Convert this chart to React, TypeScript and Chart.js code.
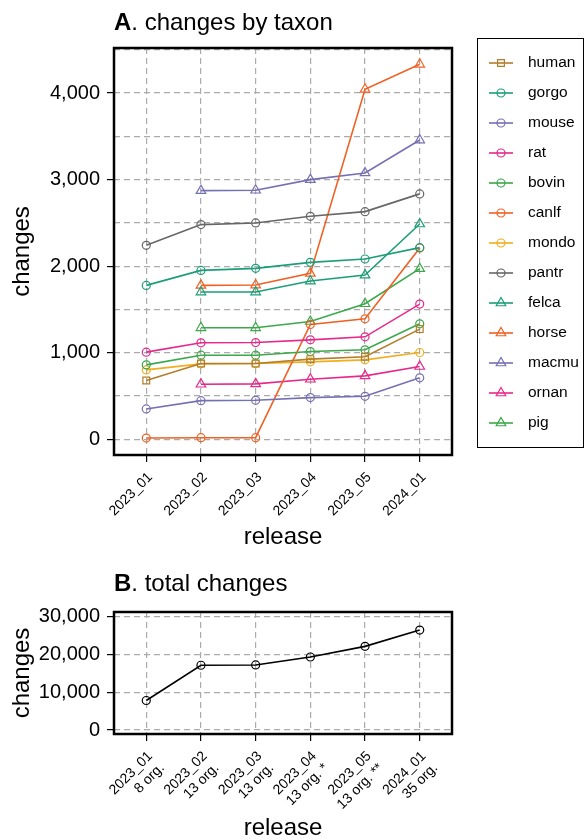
import React, { useEffect, useRef } from 'react';
import { Chart, registerables } from 'chart.js';
import { drawPoint } from 'chart.js/helpers';

Chart.register(...registerables);

// ---------- data ----------
const releases = ['2023_01', '2023_02', '2023_03', '2023_04', '2023_05', '2024_01'];
const orgCounts = ['8 org.', '13 org.', '13 org.', '13 org. *', '13 org. **', '35 org.'];

const taxa = ['human', 'gorgo', 'mouse', 'rat', 'bovin', 'canlf', 'mondo', 'pantr', 'felca', 'horse', 'macmu', 'ornan', 'pig'];

const human = [679, 875, 875, 926, 953, 1273];
const gorgo = [1778, 1951, 1975, 2044, 2083, 2214];
const mouse = [351, 447, 451, 482, 497, 710];
const rat = [1007, 1115, 1118, 1149, 1184, 1562];
const bovin = [860, 972, 972, 1014, 1034, 1334];
const canlf = [15, 19, 19, 1327, 1392, 2210];
const mondo = [802, 872, 875, 895, 918, 1003];
const pantr = [2241, 2480, 2499, 2576, 2630, 2835];
const felca = [null, 1701, 1701, 1828, 1897, 2487];
const horse = [null, 1778, 1782, 1917, 4043, 4332];
const macmu = [null, 2873, 2877, 3000, 3077, 3457];
const ornan = [null, 636, 640, 694, 733, 841];
const pig = [null, 1288, 1288, 1361, 1566, 1971];

const taxonValues = [human, gorgo, mouse, rat, bovin, canlf, mondo, pantr, felca, horse, macmu, ornan, pig];

const totalChanges = [7790, 17080, 17160, 19260, 22070, 26360];

const topGridValues = [0, 500, 1000, 1500, 2000, 2500, 3000, 3500, 4000, 4500];
const topTickLabels = [0, 1000, 2000, 3000, 4000];
const bottomGridValues = [0, 5000, 10000, 15000, 20000, 25000, 30000];
const bottomTickLabels = [0, 10000, 20000, 30000];

// ---------- styles ----------
const taxonColors = ['#B37D2A', '#1B9E77', '#7570B3', '#E7298A', '#3BA84A', '#EF6123', '#F2AE1E', '#666666', '#1B9E77', '#EF6123', '#7570B3', '#E7298A', '#3BA84A'];
const taxonShapes = ['rect', 'circle', 'circle', 'circle', 'circle', 'circle', 'circle', 'circle', 'triangle', 'triangle', 'triangle', 'triangle', 'triangle'];

const FONT = "'Liberation Sans', Arial, Helvetica, sans-serif";
const GRID = '#ABABAB';

function radiusFor(shape: string) {
  if (shape === 'triangle') return 5.5;
  if (shape === 'rect') return 4.8;
  return 4;
}

const frameAndTitle = (bold: string, rest: string, baseline: number) => ({
  id: 'frameAndTitle',
  afterDatasetsDraw(chart: any) {
    const { ctx, chartArea } = chart;
    ctx.save();
    ctx.strokeStyle = '#000';
    ctx.lineWidth = 2.5;
    ctx.setLineDash([]);
    ctx.strokeRect(chartArea.left, chartArea.top, chartArea.right - chartArea.left, chartArea.bottom - chartArea.top);
    ctx.restore();
  },
  afterDraw(chart: any) {
    const { ctx, chartArea } = chart;
    ctx.save();
    ctx.fillStyle = '#000';
    ctx.textBaseline = 'alphabetic';
    ctx.textAlign = 'left';
    ctx.font = `bold 24px ${FONT}`;
    const x = chartArea.left;
    ctx.fillText(bold, x, baseline);
    const w = ctx.measureText(bold).width;
    ctx.font = `24px ${FONT}`;
    ctx.fillText(rest, x + w, baseline);
    ctx.restore();
  },
});

const boxLegend = {
  id: 'boxLegend',
  afterDraw(chart: any) {
    const { ctx, chartArea } = chart;
    const left = chartArea.right + 25;
    const top = chartArea.top - 10;
    const n = chart.data.datasets.length;
    const step = 30;
    const height = 25 + step * (n - 1) + 24;
    ctx.save();
    ctx.strokeStyle = '#000';
    ctx.lineWidth = 1;
    ctx.strokeRect(left + 0.5, top + 0.5, 106, height);
    chart.data.datasets.forEach((ds: any, i: number) => {
      const y = top + 25 + step * i;
      ctx.strokeStyle = ds.borderColor;
      ctx.lineWidth = 1.6;
      ctx.beginPath();
      ctx.moveTo(left + 12, y);
      ctx.lineTo(left + 36, y);
      ctx.stroke();
      ctx.fillStyle = 'rgba(0,0,0,0)';
      ctx.lineWidth = 1.2;
      drawPoint(ctx, { pointStyle: ds.pointStyle, rotation: 0, radius: ds.pointRadius, borderWidth: 1.2 } as any, left + 24, y);
      ctx.fillStyle = '#000';
      ctx.font = `15.5px ${FONT}`;
      ctx.textBaseline = 'middle';
      ctx.textAlign = 'left';
      ctx.fillText(ds.label, left + 51, y);
    });
    ctx.restore();
  },
};

function yScale(min: number, max: number, gridValues: number[], labelValues: number[], width: number) {
  return {
    type: 'linear' as const,
    min,
    max,
    afterBuildTicks: (scale: any) => {
      scale.ticks = gridValues.map((v) => ({ value: v }));
    },
    afterFit: (scale: any) => {
      scale.width = width;
    },
    border: { display: false, dash: [6, 4] },
    grid: {
      color: GRID,
      lineWidth: 1.2,
      tickLength: 7,
      tickWidth: 1.2,
      tickBorderDash: [],
      tickColor: (c: any) => (c.tick && labelValues.includes(c.tick.value) ? '#000' : 'rgba(0,0,0,0)'),
    },
    ticks: {
      padding: 7,
      color: '#000',
      font: { family: FONT, size: 20 },
      callback: (v: any) => (labelValues.includes(v) ? Number(v).toLocaleString('en-US') : ''),
    },
    title: {
      display: true,
      text: 'changes',
      color: '#000',
      font: { family: FONT, size: 24, lineHeight: 1 },
      padding: { top: 10, bottom: 0 },
    },
  };
}

function xScale(height: number, labelFn: (i: number) => any, titlePadBottom: number) {
  return {
    type: 'linear' as const,
    min: -0.59,
    max: 5.59,
    afterBuildTicks: (scale: any) => {
      scale.ticks = releases.map((_, i) => ({ value: i }));
    },
    afterFit: (scale: any) => {
      scale.height = height;
    },
    border: { display: false, dash: [6, 4] },
    grid: {
      color: GRID,
      lineWidth: 1.2,
      tickLength: 7,
      tickWidth: 1.2,
      tickBorderDash: [],
      tickColor: '#000',
    },
    ticks: {
      autoSkip: false,
      maxRotation: 45,
      minRotation: 45,
      padding: 7,
      labelOffset: 4,
      color: '#000',
      font: { family: FONT, size: 14 },
      callback: (v: any) => labelFn(Number(v)),
    },
    title: {
      display: true,
      text: 'release',
      color: '#000',
      font: { family: FONT, size: 24, lineHeight: 1 },
      padding: { top: 0, bottom: titlePadBottom },
    },
  };
}

export default function App() {
  const topRef = useRef<HTMLCanvasElement>(null);
  const bottomRef = useRef<HTMLCanvasElement>(null);

  useEffect(() => {
    const datasets = taxa.map((name, k) => ({
      label: name,
      data: taxonValues[k].map((v, i) => ({ x: i, y: v })),
      borderColor: taxonColors[k],
      backgroundColor: 'rgba(0,0,0,0)',
      borderWidth: 1.6,
      pointStyle: taxonShapes[k],
      pointRadius: radiusFor(taxonShapes[k]),
      pointBorderWidth: 1.2,
      pointBackgroundColor: 'rgba(0,0,0,0)',
      pointBorderColor: taxonColors[k],
      spanGaps: false,
      tension: 0,
    }));

    const top = new Chart(topRef.current!, {
      type: 'line',
      data: { datasets: datasets as any },
      options: {
        animation: false,
        responsive: false,
        layout: { padding: { left: 0, top: 48, right: 133, bottom: 0 } },
        plugins: { legend: { display: false }, tooltip: { enabled: false } },
        scales: {
          x: xScale(105, (i) => releases[i], 11) as any,
          y: yScale(-181, 4520, topGridValues, topTickLabels, 114) as any,
        },
      },
      plugins: [frameAndTitle('A', '. changes by taxon', 29.5), boxLegend],
    });

    const bottom = new Chart(bottomRef.current!, {
      type: 'line',
      data: {
        datasets: [
          {
            label: 'total',
            data: totalChanges.map((v, i) => ({ x: i, y: v })),
            borderColor: '#000',
            backgroundColor: 'rgba(0,0,0,0)',
            borderWidth: 1.6,
            pointStyle: 'circle',
            pointRadius: 4,
            pointBorderWidth: 1.2,
            pointBackgroundColor: 'rgba(0,0,0,0)',
            pointBorderColor: '#000',
          },
        ],
      },
      options: {
        animation: false,
        responsive: false,
        layout: { padding: { left: 0, top: 52, right: 133, bottom: 0 } },
        plugins: { legend: { display: false }, tooltip: { enabled: false } },
        scales: {
          x: xScale(106, (i) => [releases[i], orgCounts[i]], 0) as any,
          y: yScale(-1050, 31130, bottomGridValues, bottomTickLabels, 114) as any,
        },
      },
      plugins: [frameAndTitle('B', '. total changes', 31)],
    });

    return () => {
      top.destroy();
      bottom.destroy();
    };
  }, []);

  return (
    <div style={{ position: 'absolute', left: 0, top: 0, width: 585, height: 840, background: '#fff' }}>
      <canvas ref={topRef} width={585} height={560} style={{ display: 'block', width: 585, height: 560 }} />
      <canvas ref={bottomRef} width={585} height={280} style={{ display: 'block', width: 585, height: 280 }} />
    </div>
  );
}
